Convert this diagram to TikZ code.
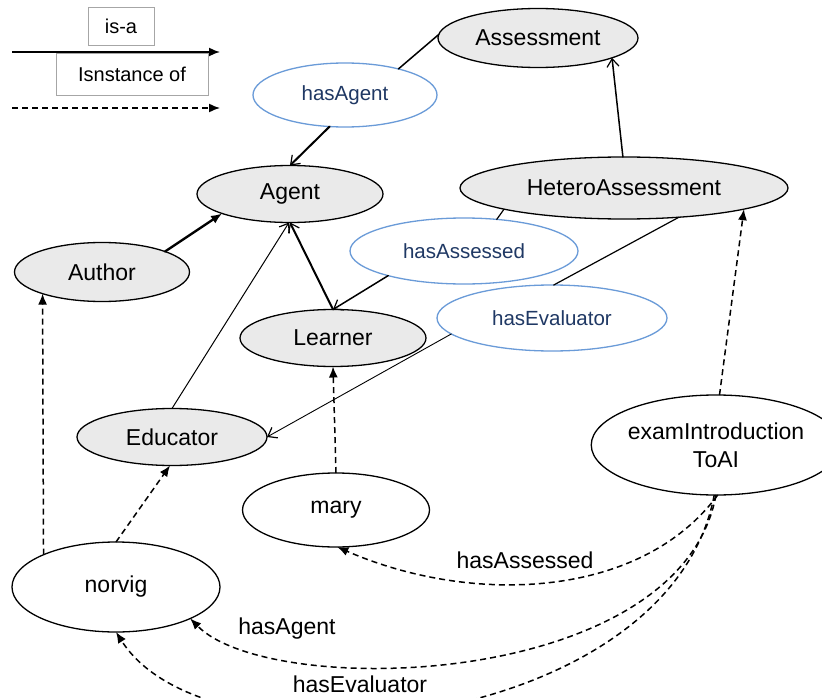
\documentclass[tikz,border=0pt]{standalone}
\usepackage{fontspec}
\setmainfont{Liberation Sans}
\usetikzlibrary{shapes.geometric,arrows.meta}
\definecolor{classfill}{HTML}{EAEAEA}
\definecolor{propline}{HTML}{6A9BD8}
\definecolor{proptext}{HTML}{1F3864}
\definecolor{legendbox}{HTML}{A6A6A6}
\begin{document}
\begin{tikzpicture}[x=1pt,y=-1pt,
  every node/.style={font=\fontsize{23}{28}\selectfont},
  oval/.style={ellipse, draw=black, line width=1.3pt, inner sep=0pt, outer sep=0pt},
  cls/.style={oval, fill=classfill},
  inst/.style={oval, fill=white, align=center},
  prop/.style={ellipse, draw=propline, line width=1.3pt, fill=white, text=proptext,
    inner sep=0pt, outer sep=0pt, font=\fontsize{20.5}{24}\selectfont},
  sz/.style 2 args={minimum width=#1pt, minimum height=#2pt},
  legbox/.style={draw=legendbox, line width=0.8pt, fill=white, inner sep=0pt,
    font=\fontsize{20}{24}\selectfont},
  barb/.style={-{Straight Barb[length=8pt,width=12pt,line width=1.2pt]}},
  solidtip/.style={-{Latex[length=11pt,width=9pt]}},
  rel/.style={line width=#1, line cap=round},
  rel/.default=1.4pt,
  inf/.style={line width=1.5pt, dash pattern=on 6pt off 4pt, -{Latex[length=11pt,width=9pt]}},
  edgelabel/.style={font=\fontsize{23}{28}\selectfont, inner sep=1pt}
]
% canvas
\path[use as bounding box, fill=white] (0,0) rectangle (822,698);

% legend
\coordinate (isaL) at (12,52);
\coordinate (isaR) at (220,52);
\coordinate (instL) at (12,108);
\coordinate (instR) at (220,108);
\draw[line width=1.6pt, solidtip] (isaL) -- (isaR);
\draw[line width=1.5pt, dash pattern=on 6pt off 4pt, solidtip] (instL) -- (instR);
\node[legbox, minimum width=66pt, minimum height=38pt] (isatag) at (121,26) {is-a};
\node[legbox, minimum width=152pt, minimum height=42pt] (insttag) at (132,74.5) {Isnstance of};

% classes
\node[cls, sz={200}{59}] (assess) at (538,38) {Assessment};
\node[cls, sz={186}{57}] (agent) at (290,194) {Agent};
\node[cls, sz={328}{62}] (hetero) at (624,188) {HeteroAssessment};
\node[cls, sz={175}{59}] (author) at (102,272) {Author};
\node[cls, sz={186}{57}] (learner) at (333,338) {Learner};
\node[cls, sz={190}{57}] (educator) at (172,437) {Educator};

% properties
\node[prop, sz={184}{64}] (hasagent) at (345,95) {hasAgent};
\node[prop, sz={228}{66}] (hasassessed) at (464,251) {hasAssessed};
\node[prop, sz={230}{66}] (hasevaluator) at (552,318) {hasEvaluator};

% individuals
\node[inst, sz={206}{100}] (exam) at (716,445) {examIntroduction\\ToAI};
\node[inst, sz={187}{74}] (mary) at (336,510) {mary};
\node[inst, sz={208}{90}] (norvig) at (116,587) {norvig};

% is-a links
\draw[rel=2.4pt, solidtip] (author.18) -- (agent.196);
\draw[rel=2pt, barb] (learner.north) -- (agent.south);
\draw[rel=1pt, barb] (educator.north) -- (agent.268);
\draw[rel=1.5pt, barb] (hetero.92) -- (assess.-15);

% property domains and ranges
\draw[rel=1.5pt] (assess.178) -- (hasagent.26);
\draw[rel=2pt, barb] (hasagent.244) -- (agent.north);
\draw[rel=1.2pt] (hetero.190) -- (hasassessed.44);
\draw[rel=1.5pt, barb] (hasassessed.198) -- (learner.north);
\draw[rel=1.2pt] (hetero.-28.5) -- (hasevaluator.87);
\draw[rel=0.9pt, barb] (hasevaluator.189.6) -- (educator.east);

% instance-of links
\draw[inf] (norvig.156) -- (author.200);
\draw[inf] (norvig.north) -- (educator.266);
\draw[inf] (mary.north) -- (learner.south);
\draw[inf] (exam.86) -- (hetero.-10.7);

% property assertions
\draw[inf] (exam.-88) .. controls (640,600) and (470,605) .. (mary.-88);
\draw[inf] (exam.-90) .. controls (680,690) and (270,700) .. (norvig.-23);
\draw[inf] (exam.-92) .. controls (670,730) and (210,780) .. (norvig.south);

\node[edgelabel] (lblassessed) at (525,560) {hasAssessed};
\node[edgelabel] (lblagent) at (287,629) {hasAgent};
\node[edgelabel] (lblevaluator) at (360,684) {hasEvaluator};
\end{tikzpicture}
\end{document}
